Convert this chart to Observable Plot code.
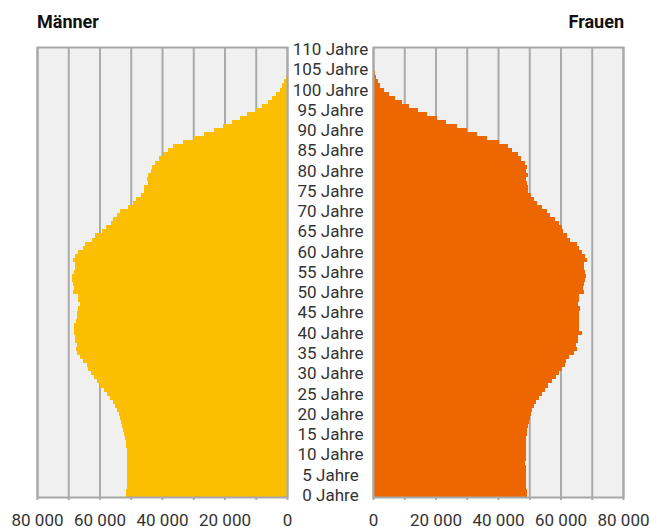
<!DOCTYPE html>
<html>
<head>
<meta charset="utf-8">
<script src="https://cdn.jsdelivr.net/npm/d3@7"></script>
<script src="https://cdn.jsdelivr.net/npm/@observablehq/plot@0.6"></script>
<style>
  html, body { margin: 0; padding: 0; background: #fff; }
  #wrap { position: relative; width: 651px; height: 527px; font-family: Roboto, sans-serif; }
  .title { position: absolute; top: 12px; line-height: 20px; font-size: 18px; font-weight: bold; color: #111; }
  #left, #right { position: absolute; top: 36px; }
  #left { left: 0; }
  #right { left: 363px; }
</style>
</head>
<body>
<div id="wrap">
  <div class="title" style="left:37px">Männer</div>
  <div class="title" style="right:27px">Frauen</div>
  <div id="left"></div>
  <div id="right"></div>
</div>
<script>
// Age categories 0..110
const ages = d3.range(0, 111);
// Tick values
const ageTicks = [0, 5, 10, 15, 20, 25, 30, 35, 40, 45, 50, 55, 60, 65, 70, 75, 80, 85, 90, 95, 100, 105, 110];
const xTicks = [0, 10000, 20000, 30000, 40000, 50000, 60000, 70000, 80000];
const xLabelTicks = [0, 20000, 40000, 60000, 80000];

// Männer, age 0..110
const male = [
  51520, 51520, 51200, 51200, 51200, 51200, 51200, 51200, 51200, 51200,
  51200, 51200, 51520, 51520, 51840, 52160, 52480, 52800, 53120, 53440,
  53760, 54400, 55040, 55680, 56640, 57600, 58560, 59840, 60800, 61760,
  62720, 63680, 64000, 65280, 66240, 67200, 67520, 67200, 67840, 67840,
  68160, 68160, 68160, 67520, 67200, 67200, 66880, 66240, 66880, 66880,
  68480, 68160, 68480, 68800, 68800, 68160, 67860, 67860, 68500, 67860,
  66900, 65300, 64660, 62420, 61460, 59220, 57940, 56340, 55700, 54410,
  53450, 50890, 49290, 48330, 46730, 45770, 45770, 44490, 44810, 44490,
  43530, 43210, 42250, 40970, 39690, 38090, 36490, 33290, 29880, 26570,
  23370, 20490, 17600, 15050, 12800, 10140, 8000, 6080, 4800, 3520,
  2240, 1600, 960, 300, 150, 60, 25, 10, 4, 1, 0
];
// Frauen, age 0..110
const female = [
  49280, 49280, 48960, 48960, 48960, 48960, 48960, 48960, 48640, 48800,
  48960, 48960, 48960, 48960, 48960, 49280, 49280, 49600, 49920, 50240,
  50560, 50880, 51520, 52160, 53120, 54080, 55040, 56000, 57280, 58560,
  59520, 60480, 61440, 61760, 62720, 64320, 65170, 64960, 65600, 65600,
  66880, 65920, 65920, 65920, 65920, 65920, 66240, 65600, 65920, 65920,
  67520, 67200, 67520, 67840, 68160, 67840, 67410, 67410, 68370, 67730,
  66780, 65820, 65180, 62940, 61980, 60700, 60390, 59430, 58150, 56550,
  55590, 54000, 52400, 51440, 50480, 49520, 49520, 49200, 48880, 49520,
  48880, 49200, 48560, 47290, 46330, 44410, 43130, 40260, 36420, 33230,
  30030, 26840, 23320, 20450, 17250, 14380, 11500, 9270, 7030, 5110,
  3510, 2240, 1600, 960, 640, 250, 100, 40, 15, 5, 1
];

const rows = ages.map((a, i) => ({age: a, m: male[i], f: female[i]}));
const fmt = d3.formatLocale({decimal: ",", thousands: " ", grouping: [3], currency: ["", ""]}).format(",");

const common = {
  height: 501,
  marginTop: 11,
  marginBottom: 40,
  style: {fontFamily: "Roboto, sans-serif", fontSize: "17px", color: "#333", background: "transparent", overflow: "visible"}
};
const yScale = {type: "band", domain: [...ages].reverse(), padding: 0, round: false, label: null};
const gridColor = "#aaaaaa";

function marksFor(key, fill) {
  return [
    Plot.frame({fill: "#f0f0f0"}),
    Plot.gridX(xTicks, {stroke: gridColor, strokeOpacity: 1, strokeWidth: 2}),
    Plot.barX(rows, {y: "age", x: key, fill, shapeRendering: "crispEdges"}),
    Plot.frame({stroke: "#a8a8a8", strokeWidth: 2}),
    Plot.axisX(xTicks, {tickSize: 3, tickPadding: 13, stroke: gridColor, strokeWidth: 2, fill: "#333", fontSize: 17,
      label: null, tickFormat: d => xLabelTicks.includes(d) ? fmt(d) : ""})
  ];
}

const left = Plot.plot({
  ...common,
  width: 370,
  marginLeft: 37,
  marginRight: 83,
  x: {domain: [80000, 0], label: null},
  y: yScale,
  marks: [
    ...marksFor("m", "#fbbe00"),
    Plot.axisY(ageTicks, {anchor: "right", tickSize: 0, tickPadding: 0, dx: 43, textAnchor: "middle",
      fill: "#333", fontSize: 17, label: null, tickFormat: d => `${d} Jahre`})
  ]
});

const right = Plot.plot({
  ...common,
  width: 288,
  marginLeft: 10,
  marginRight: 28,
  x: {domain: [0, 80000], label: null},
  y: {...yScale, axis: null},
  marks: marksFor("f", "#ee6600")
});

document.getElementById("left").append(left);
document.getElementById("right").append(right);
</script>
</body>
</html>
